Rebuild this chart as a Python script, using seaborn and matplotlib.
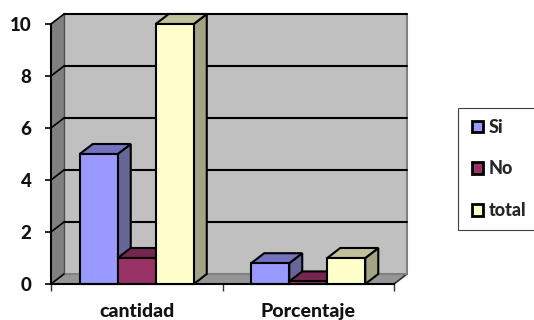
import pandas as pd
import seaborn as sns
import matplotlib.pyplot as plt
from matplotlib.patches import Polygon, Patch, Rectangle

categories = ["cantidad", "Porcentaje"]
series = ["Si", "No", "total"]
si_values = [5, 0.8]
no_values = [1, 0.1]
total_values = [10, 1]
y_ticks = [0, 2, 4, 6, 8, 10]

front = {"Si": "#9999ff", "No": "#993366", "total": "#ffffcc"}
side = {"Si": "#666699", "No": "#662244", "total": "#a3a385"}
top = {"Si": "#7373bf", "No": "#732650", "total": "#c2c29a"}

sns.set_style("ticks")
plt.rcParams["font.family"] = ["Lato", "DejaVu Sans"]
plt.rcParams["font.weight"] = "bold"

df = pd.DataFrame({
    "cat": categories * 3,
    "serie": ["Si"] * 2 + ["No"] * 2 + ["total"] * 2,
    "valor": si_values + no_values + total_values,
})

fig = plt.figure(figsize=(5.34, 3.2), dpi=100)
ax = fig.add_axes([51 / 534, 36 / 320, 343 / 534, 260 / 320])
sns.barplot(data=df, x="cat", y="valor", hue="serie", hue_order=series, palette=front,
            saturation=1, width=0.665, gap=0, edgecolor="black", linewidth=1.5,
            legend=False, ax=ax)
ax.set_xlim(-0.5, 1.5)
ax.set_ylim(0, 10)

# depth of the fake 3d box, in data units
dx = 13 / 171.5
dy = 10 / 26
x0, x1 = ax.get_xlim()


def poly(pts, color, z, edge="black", lw=1.5):
    ax.add_patch(Polygon(pts, closed=True, facecolor=color, edgecolor=edge,
                         linewidth=lw, zorder=z, clip_on=False, joinstyle="miter"))


# walls and floor
poly([(x0 + dx, dy), (x1 + dx, dy), (x1 + dx, 10 + dy), (x0 + dx, 10 + dy)], "#c0c0c0", 0.1, edge="none")
poly([(x0, 0), (x0 + dx, dy), (x0 + dx, 10 + dy), (x0, 10)], "#808080", 0.2, edge="none")
poly([(x0, 0), (x1, 0), (x1 + dx, dy), (x0 + dx, dy)], "#969696", 0.2, edge="none")
ax.plot([x1 + dx, x1 + dx], [dy, 10 + dy], color="#808080", lw=1.5, clip_on=False, zorder=0.3)
ax.plot([x1, x1 + dx], [0, dy], color="#303030", lw=1.2, clip_on=False, zorder=0.3)
for t in y_ticks:
    c = "#808080" if t == 0 else "black"
    ax.plot([x0 + dx, x1 + dx], [t + dy, t + dy], color=c, lw=1.5, clip_on=False, zorder=0.4)
    ax.plot([x0, x0 + dx], [t, t + dy], color="black", lw=1.2, clip_on=False, zorder=0.4)
ax.plot([x0 + dx, x0 + dx], [dy, 10 + dy], color="#505050", lw=1, clip_on=False, zorder=0.35)

# side and top faces come from the bars seaborn drew
for i, name in enumerate(series):
    z = 1 + i
    for bar in ax.containers[i]:
        x = bar.get_x()
        w = bar.get_width()
        h = bar.get_height()
        bar.set_zorder(z + 0.5)
        bar.set_clip_on(False)
        poly([(x + w, 0), (x + w + dx, dy), (x + w + dx, h + dy), (x + w, h)], side[name], z)
        poly([(x, h), (x + dx, h + dy), (x + w + dx, h + dy), (x + w, h)], top[name], z)

ax.set_xlabel("")
ax.set_ylabel("")
ax.set_yticks(y_ticks)
ax.set_xticks([-0.5, 0.5, 1.5], minor=False, labels=["", "", ""])
ax.set_xticks([0, 1], labels=categories, minor=True)
ax.tick_params(axis="x", which="major", length=5, width=1, color="#303030")
ax.tick_params(axis="x", which="minor", length=0, pad=13.5, labelsize=14, labelcolor="#111111")
ax.tick_params(axis="y", length=4, width=1.2, color="black", pad=10, labelsize=13.5, labelcolor="#111111")
for lab in ax.get_xticklabels(minor=True) + ax.get_yticklabels():
    lab.set_fontweight("black")
sns.despine(ax=ax, top=True, right=True)
ax.spines["left"].set_linewidth(1.5)
ax.spines["left"].set_color("black")
ax.spines["bottom"].set_linewidth(1.5)
ax.spines["bottom"].set_color("black")
ax.spines["left"].set_zorder(0.5)

# legend frame runs off the right edge like in the original
fig.add_artist(Rectangle((457.5 / 534, 90 / 320), 90 / 534, 122 / 320, transform=fig.transFigure,
                         facecolor="white", edgecolor="#404040", linewidth=0.8))
handles = [Patch(facecolor=front[s], edgecolor="black", linewidth=2, label=s) for s in series]
leg = fig.legend(handles=handles, loc="center left", bbox_to_anchor=(472 / 534, 151 / 320),
                 frameon=False, prop={"size": 13, "weight": "black"},
                 handlelength=0.62, handleheight=0.62, handletextpad=0.3,
                 labelspacing=1.36, borderpad=0, borderaxespad=0)

fig.savefig("out.png", dpi=100)
